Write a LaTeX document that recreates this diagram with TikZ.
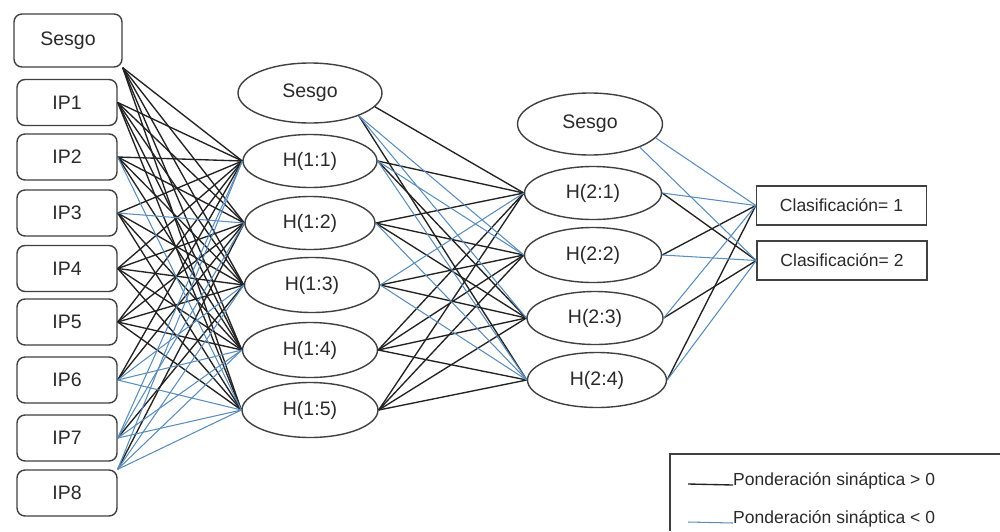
\documentclass[tikz,border=0pt]{standalone}
\usepackage{fontspec}
\setmainfont{Liberation Sans}
\usetikzlibrary{shapes.geometric}
\definecolor{edgec}{HTML}{404040}
\definecolor{posc}{HTML}{222222}
\definecolor{negc}{HTML}{5A8CBC}
\definecolor{txtc}{HTML}{2A2A2A}
\begin{document}
\begin{tikzpicture}[x=1pt,y=-1pt,
  inbox/.style={draw=edgec,line width=1.4pt,rounded corners=8pt,fill=white,minimum width=100pt,minimum height=46pt,inner sep=0pt,text=txtc,font=\fontsize{19.5}{22}\selectfont},
  hid/.style={draw=edgec,line width=1.4pt,ellipse,fill=white,inner sep=0pt,text=txtc,font=\fontsize{19.5}{22}\selectfont},
  outbox/.style={draw=edgec,line width=1.4pt,fill=white,minimum width=170pt,minimum height=39pt,inner sep=0pt,text=txtc,font=\fontsize{17.5}{20}\selectfont},
  poswt/.style={draw=posc,line width=1.35pt},
  negwt/.style={draw=negc,line width=1.05pt},
  legtext/.style={anchor=base west,inner sep=0pt,text=txtc,font=\fontsize{17.5}{20}\selectfont}]
\useasboundingbox (0,0) rectangle (1000,531);
% input layer
\node[inbox,minimum width=108pt,minimum height=53pt] (bs) at (68,40.5) {Sesgo};
\node[inbox] (ip1) at (67,102.5) {IP1};
\node[inbox] (ip2) at (67,157) {IP2};
\node[inbox] (ip3) at (67,213) {IP3};
\node[inbox] (ip4) at (67,268.5) {IP4};
\node[inbox] (ip5) at (67,322) {IP5};
\node[inbox] (ip6) at (67,380) {IP6};
\node[inbox] (ip7) at (67,438) {IP7};
\node[inbox] (ip8) at (67,493) {IP8};
% hidden layer 1
\node[hid,minimum width=144pt,minimum height=60pt] (hs1) at (310,93) {Sesgo};
\node[hid,minimum width=134pt,minimum height=53pt] (h11) at (310,161) {H(1:1)};
\node[hid,minimum width=130pt,minimum height=53pt] (h12) at (310,223) {H(1:2)};
\node[hid,minimum width=135pt,minimum height=55pt] (h13) at (312,285) {H(1:3)};
\node[hid,minimum width=135pt,minimum height=55pt] (h14) at (310,350) {H(1:4)};
\node[hid,minimum width=136pt,minimum height=55pt] (h15) at (310,410) {H(1:5)};
% hidden layer 2
\node[hid,minimum width=145pt,minimum height=62pt] (hs2) at (590,124) {Sesgo};
\node[hid,minimum width=137pt,minimum height=53pt] (h21) at (593,193) {H(2:1)};
\node[hid,minimum width=137pt,minimum height=55pt] (h22) at (593,255) {H(2:2)};
\node[hid,minimum width=136pt,minimum height=53pt] (h23) at (595,318) {H(2:3)};
\node[hid,minimum width=139pt,minimum height=55pt] (h24) at (597,380) {H(2:4)};
% output layer
\node[outbox] (o1) at (841.5,205.5) {Clasificación= 1};
\node[outbox] (o2) at (842,260.5) {Clasificación= 2};
% input -> hidden 1
\foreach \a/\b in {bs.south east/h11, bs.south east/h12, bs.south east/h13, bs.south east/h14, bs.south east/h15,
  ip1.east/h11, ip1.east/h12, ip1.east/h13, ip1.east/h14, ip1.east/h15,
  ip2.east/h11, ip2.east/h12, ip2.east/h13, ip2.east/h14,
  ip3.east/h11, ip3.east/h13, ip3.east/h14, ip3.east/h15,
  ip4.east/h11, ip4.east/h12, ip4.east/h13, ip4.east/h14, ip4.east/h15,
  ip5.east/h11, ip5.east/h12, ip5.east/h13, ip5.east/h14, ip5.east/h15,
  ip6.east/h11, ip6.east/h12, ip7.east/h13, ip8.north east/h12}
  \draw[poswt] (\a) -- (\b.west);
\foreach \a/\b in {ip2.east/h15, ip3.east/h12, ip6.east/h13, ip6.east/h14, ip6.east/h15,
  ip7.east/h11, ip7.east/h12, ip7.east/h14, ip7.east/h15,
  ip8.north east/h11, ip8.north east/h13, ip8.north east/h14, ip8.north east/h15}
  \draw[negwt] (\a) -- (\b.west);
% hidden 1 -> hidden 2
\foreach \a/\b in {hs1.-12/h21, hs1.-25/h24,
  h11.east/h21, h11.east/h23,
  h12.east/h21, h12.east/h22, h12.east/h23,
  h13.east/h22, h13.east/h23,
  h14.east/h21, h14.east/h22, h14.east/h23, h14.east/h24,
  h15.east/h21, h15.east/h22, h15.east/h23, h15.east/h24}
  \draw[poswt] (\a) -- (\b.west);
\foreach \a/\b in {hs1.-25/h22, hs1.-25/h23,
  h11.east/h22, h11.east/h24, h12.east/h24, h13.east/h21, h13.east/h24}
  \draw[negwt] (\a) -- (\b.west);
% hidden 2 -> output
\foreach \a/\b in {h21.east/o2, h22.east/o1, h23.east/o2, h24.east/o1}
  \draw[poswt] (\a) -- (\b.west);
\foreach \a/\b in {hs2.-12/o1, hs2.-25/o2, h21.east/o1, h22.east/o2, h23.east/o1, h24.east/o2}
  \draw[negwt] (\a) -- (\b.west);
% legend
\draw[draw=edgec,line width=1.4pt] (1000,454) -- (670,454) -- (670,531);
\node[legtext] (l1) at (733,485) {Ponderación sináptica > 0};
\node[legtext] (l2) at (733,523) {Ponderación sináptica < 0};
\coordinate (l1s) at (688,484);
\coordinate (l2s) at (688,522);
\draw[poswt] (l1s) -- (l1.base west);
\draw[negwt] (l2s) -- (l2.base west);
\end{tikzpicture}
\end{document}
